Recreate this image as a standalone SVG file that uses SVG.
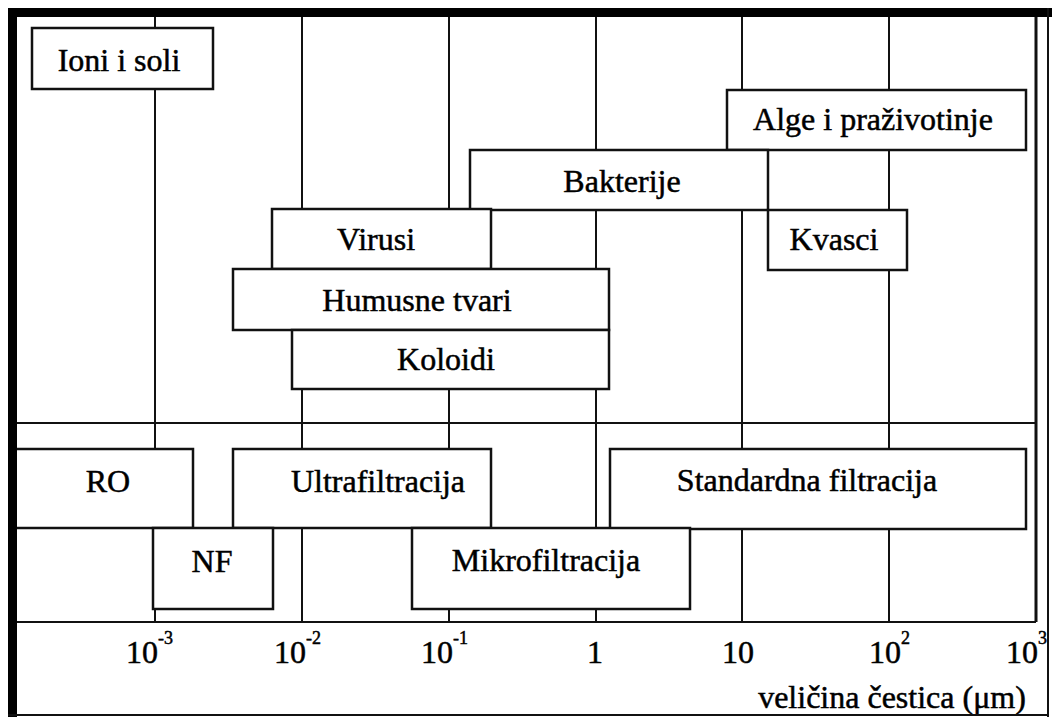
<svg xmlns="http://www.w3.org/2000/svg" width="1052" height="717" viewBox="0 0 1052 717">
<style>
.grid{stroke:#111;stroke-width:2;fill:none}
.box rect{fill:#fff;stroke:#111;stroke-width:2.5}
.box text,.lbl{font-family:"Liberation Serif","Times New Roman",serif;font-size:32px;fill:#000;stroke:#000;stroke-width:0.5;text-anchor:middle}
.tick{font-family:"Liberation Serif","Times New Roman",serif;font-size:32px;fill:#000;stroke:#000;stroke-width:0.5}
.sup{font-size:18px}
</style>
<rect x="0" y="0" width="1052" height="717" fill="#fff"/>
<g id="grid" class="grid">
<line x1="155" y1="17" x2="155" y2="622"/>
<line x1="302" y1="17" x2="302" y2="622"/>
<line x1="449" y1="17" x2="449" y2="622"/>
<line x1="596" y1="17" x2="596" y2="622"/>
<line x1="742" y1="17" x2="742" y2="622"/>
<line x1="889" y1="17" x2="889" y2="622"/>
<line x1="1036" y1="17" x2="1036" y2="622" stroke-width="3"/>
<line x1="17" y1="423" x2="1036" y2="423"/>
<line x1="17" y1="622" x2="1036" y2="622"/>
</g>
<g id="ioni" class="box"><rect x="32" y="28" width="181" height="61"/><text x="119" y="71">Ioni i soli</text></g>
<g id="alge" class="box"><rect x="727" y="90" width="299" height="60"/><text x="873" y="130">Alge i praživotinje</text></g>
<g id="bakterije" class="box"><rect x="470" y="150" width="298" height="60"/><text x="622" y="192">Bakterije</text></g>
<g id="kvasci" class="box"><rect x="768" y="210" width="139" height="60"/><text x="834" y="250">Kvasci</text></g>
<g id="virusi" class="box"><rect x="272" y="209" width="219" height="60"/><text x="376" y="250">Virusi</text></g>
<g id="humusne" class="box"><rect x="233" y="269" width="376" height="61"/><text x="417" y="311">Humusne tvari</text></g>
<g id="koloidi" class="box"><rect x="292" y="330" width="317" height="59"/><text x="446" y="370">Koloidi</text></g>
<g id="ro" class="box"><rect x="10" y="449" width="183" height="79"/><text x="108" y="492">RO</text></g>
<g id="ultra" class="box"><rect x="233" y="449" width="258" height="79"/><text x="378" y="492">Ultrafiltracija</text></g>
<g id="standard" class="box"><rect x="610" y="449" width="416" height="80"/><text x="807" y="491">Standardna filtracija</text></g>
<g id="nf" class="box"><rect x="153" y="528" width="120" height="81"/><text x="212" y="572">NF</text></g>
<g id="mikro" class="box"><rect x="412" y="528" width="278" height="81"/><text x="546" y="571">Mikrofiltracija</text></g>
<g id="ticks" class="tick">
<text x="126" y="663">10<tspan class="sup" dy="-19">-3</tspan></text>
<text x="274" y="663">10<tspan class="sup" dy="-19">-2</tspan></text>
<text x="421" y="663">10<tspan class="sup" dy="-19">-1</tspan></text>
<text x="595" y="663" text-anchor="middle">1</text>
<text x="738" y="663" text-anchor="middle">10</text>
<text x="869" y="663">10<tspan class="sup" dy="-19">2</tspan></text>
<text x="1006" y="663">10<tspan class="sup" dy="-19">3</tspan></text>
</g>
<text class="lbl" x="892" y="708">veličina čestica (μm)</text>
<g id="frame">
<rect x="8" y="8" width="1044" height="9" fill="#000"/>
<rect x="8" y="8" width="9" height="709" fill="#000"/>
<line x1="1048" y1="8" x2="1048" y2="717" stroke="#111" stroke-width="2"/>
<line x1="8" y1="715" x2="1049" y2="715" stroke="#111" stroke-width="2"/>
</g>
</svg>
